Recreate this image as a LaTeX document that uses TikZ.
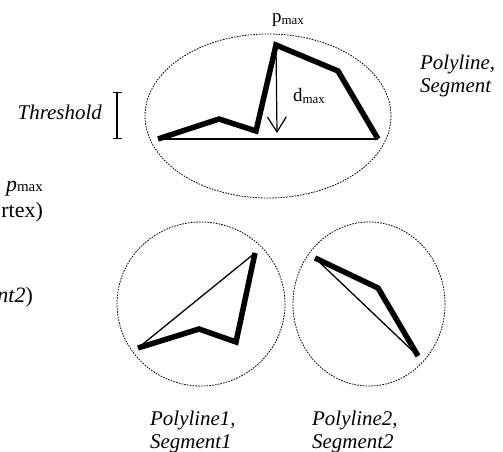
\documentclass[tikz,border=0pt]{standalone}
\usepackage{fontspec}
\setmainfont{Liberation Serif}
\usetikzlibrary{arrows.meta}
\newcommand{\subsmax}{\raisebox{-2bp}{\fontsize{13}{13}\selectfont max}}
\begin{document}
\begin{tikzpicture}[x=1bp,y=-1bp,
  poly/.style={line width=5.5bp, line join=miter},
  seg/.style={line width=1.3bp},
  hull/.style={line width=0.8bp, dash pattern=on 1.6bp off 1.2bp},
  lbl/.style={font=\fontsize{21}{22.5}\selectfont\itshape, align=left, inner sep=0pt},
  sym/.style={font=\fontsize{19}{19}\selectfont, inner sep=0pt},
  cut/.style={font=\fontsize{22}{22}\selectfont, inner sep=0pt},
  ]
\useasboundingbox (0,0) rectangle (503,452);

% ---- top: whole polyline
\draw[hull] (268,116) ellipse [x radius=123, y radius=82];
\coordinate (a1) at (158,139);
\coordinate (a2) at (219,119);
\coordinate (a3) at (256,131);
\coordinate (a4) at (276,45);
\coordinate (a5) at (338,71);
\coordinate (a6) at (378,139);
\coordinate (dfoot) at (277,133);
\draw[seg] (a1) -- (a6);
\draw[poly] (a1) -- (a2) -- (a3) -- (a4) -- (a5) -- (a6);
\draw[line width=1.2bp, -{Straight Barb[length=15bp,width=19bp]}] (a4) -- (dfoot);

\node[sym, anchor=base west] (pmax) at (272,23) {p\subsmax};
\node[sym, anchor=base west] (dmax) at (293,102) {d\subsmax};

\node[lbl, anchor=base east] (thr) at (102,120) {Threshold};
\coordinate (t1) at (117,92);
\coordinate (t2) at (117,139);
\draw[line width=1.3bp, {Bar[width=9bp]}-{Bar[width=9bp]}] (t1) -- (t2);

\node[lbl, anchor=north west] (lblall) at (420,55) {Polyline,\\Segment};

% ---- left, cut-off texts
\node[cut, anchor=base east] (lp) at (43,192) {\textit{p}{\fontsize{15}{15}\selectfont max}};
\node[cut, anchor=base east] (lr) at (43,218) {rtex)};
\node[cut, anchor=base east] (ln) at (33,302) {\textit{nt2})};

% ---- bottom left
\draw[hull] (201,304) ellipse [x radius=84, y radius=82];
\coordinate (b1) at (138,348);
\coordinate (b2) at (199,329);
\coordinate (b3) at (236,342);
\coordinate (b4) at (255,253);
\draw[seg] (b1) -- (b4);
\draw[poly] (b1) -- (b2) -- (b3) -- (b4);
\node[lbl, anchor=north west] (lbl1) at (150,411) {Polyline1,\\Segment1};

% ---- bottom right
\draw[hull] (369,304) ellipse [x radius=76, y radius=82];
\coordinate (c1) at (315,258);
\coordinate (c2) at (378,288);
\coordinate (c3) at (418,356);
\draw[seg] (c1) -- (c3);
\draw[poly] (c1) -- (c2) -- (c3);
\node[lbl, anchor=north west] (lbl2) at (312,411) {Polyline2,\\Segment2};
\end{tikzpicture}
\end{document}
